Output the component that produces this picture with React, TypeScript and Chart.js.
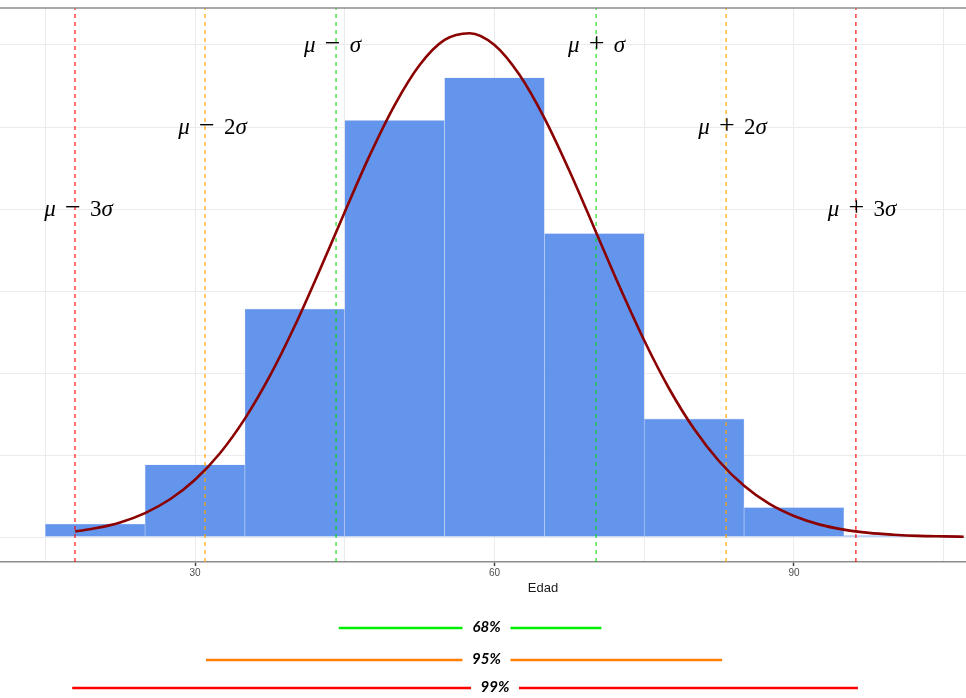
import { useEffect, useRef } from 'react';
import { Chart, registerables } from 'chart.js';

Chart.register(...registerables);

// Histogram (density) of Edad
const binCenters = [20, 30, 40, 50, 60, 70, 80, 90, 100];
const binDensity = [0.00079, 0.0044, 0.0139, 0.0254, 0.028, 0.0185, 0.0072, 0.0018, 0.00008];

// Normal density curve
const curveX = [18, 20, 22.5, 25, 27.5, 30, 32.5, 35, 37.5, 40, 42.5, 45, 47.5, 50, 52.5, 55, 57.5, 60, 62.5, 65, 67.5, 70, 72.5, 75, 77.5, 80, 82.5, 85, 87.5, 90, 92.5, 95, 97.5, 100, 102.5, 105, 107];
const curveY = [0.00034, 0.00053, 0.00089, 0.00146, 0.0023, 0.00349, 0.00511, 0.00722, 0.00982, 0.01288, 0.01628, 0.01982, 0.02327, 0.02634, 0.02878, 0.03031, 0.03072, 0.03, 0.02818, 0.02554, 0.02233, 0.01883, 0.0153, 0.01198, 0.00904, 0.00658, 0.00462, 0.00312, 0.00203, 0.00128, 0.00077, 0.00045, 0.00025, 0.00014, 0.00007, 0.00004, 0.00002];

// mu +/- k sigma reference lines
const sigmaValues = [17.98, 31.0, 44.13, 70.18, 83.2, 96.2];
const sigmaLabels = ['μ − 3σ', 'μ − 2σ', 'μ − σ', 'μ + σ', 'μ + 2σ', 'μ + 3σ'];
const sigmaLabelX = [18.33, 31.75, 43.77, 70.22, 83.84, 96.81];
const sigmaLabelLevel = [0.02, 0.025, 0.03, 0.03, 0.025, 0.02];

// coverage intervals
const intervalLabels = ['68%', '95%', '99%'];
const intervalLow = [44.4, 31.1, 17.7];
const intervalHigh = [70.7, 82.8, 96.4];
const intervalTextX = [59.2, 59.2, 60.05];

const xTickLabels = [30, 60, 90];
const xTitle = 'Edad';

const X_MIN = 10.467;
const X_MAX = 107.23;
const Y_MIN = -0.001524;
const Y_MAX = 0.032256;

const sigmaColors = ['rgba(255,0,0,0.8)', 'rgba(255,165,0,0.85)', 'rgba(0,220,0,0.75)', 'rgba(0,220,0,0.75)', 'rgba(255,165,0,0.85)', 'rgba(255,0,0,0.8)'];
const intervalColors = ['#00ee00', '#ff8000', '#ff0000'];
const intervalY = [628, 660, 688];

function drawMath(ctx: CanvasRenderingContext2D, label: string, cx: number, cy: number, size: number) {
  const up = `${size}px "Liberation Serif"`;
  const op = `${Math.round(size * 1.2)}px "Liberation Serif"`;
  const it = `italic ${size}px "Liberation Serif"`;
  const gap = size * 0.4;
  const tokens: { ch: string; font: string; w: number }[] = [];
  for (const ch of label) {
    if (ch === ' ') {
      tokens.push({ ch: '', font: up, w: gap });
    } else {
      const font = ch === 'μ' || ch === 'σ' ? it : ch === '−' || ch === '+' ? op : up;
      ctx.font = font;
      tokens.push({ ch, font, w: ctx.measureText(ch).width });
    }
  }
  const total = tokens.reduce((s, t) => s + t.w, 0);
  let xx = cx - total / 2;
  const base = cy + size * 0.3;
  ctx.fillStyle = '#000';
  ctx.textAlign = 'left';
  ctx.textBaseline = 'alphabetic';
  for (const t of tokens) {
    if (t.ch) {
      ctx.font = t.font;
      ctx.fillText(t.ch, xx, base);
    }
    xx += t.w;
  }
}

const overlayPlugin = {
  id: 'overlay',
  afterDatasetsDraw(chart: any) {
    const { ctx, chartArea, scales } = chart;
    const x = scales.x;
    const y = scales.y;
    ctx.save();
    ctx.strokeStyle = '#8c8c8c';
    ctx.lineWidth = 1.5;
    ctx.beginPath();
    ctx.moveTo(chartArea.left, chartArea.top);
    ctx.lineTo(chartArea.right, chartArea.top);
    ctx.stroke();
    sigmaLabels.forEach((lab, i) => {
      drawMath(ctx, lab, x.getPixelForValue(sigmaLabelX[i]), y.getPixelForValue(sigmaLabelLevel[i]), 23);
    });
    ctx.restore();
  },
  afterDraw(chart: any) {
    const { ctx, scales } = chart;
    const x = scales.x;
    ctx.save();
    ctx.font = '13px "Liberation Sans"';
    ctx.fillStyle = '#1a1a1a';
    ctx.textAlign = 'center';
    ctx.textBaseline = 'middle';
    ctx.fillText(xTitle, x.getPixelForValue(64.86), 588);
    intervalLabels.forEach((lab, i) => {
      const yy = intervalY[i];
      const tx = x.getPixelForValue(intervalTextX[i]);
      const x1 = x.getPixelForValue(intervalLow[i]);
      const x2 = x.getPixelForValue(intervalHigh[i]);
      ctx.strokeStyle = intervalColors[i];
      ctx.lineWidth = 2.5;
      ctx.beginPath();
      ctx.moveTo(x1, yy);
      ctx.lineTo(tx - 24, yy);
      ctx.moveTo(tx + 24, yy);
      ctx.lineTo(x2, yy);
      ctx.stroke();
      ctx.font = 'italic bold 15px Lato';
      ctx.fillStyle = '#000';
      ctx.textAlign = 'center';
      ctx.textBaseline = 'middle';
      ctx.fillText(lab, tx, yy - 1);
    });
    ctx.restore();
  },
};

export default function App() {
  const ref = useRef<HTMLCanvasElement>(null);
  useEffect(() => {
    if (!ref.current) return;
    const datasets: any[] = [
      {
        type: 'line',
        data: curveX.map((v, i) => ({ x: v, y: curveY[i] })),
        borderColor: '#8b0000',
        borderWidth: 2.6,
        pointRadius: 0,
        cubicInterpolationMode: 'monotone',
        fill: false,
        order: 0,
      },
      ...sigmaValues.map((v, i) => ({
        type: 'line',
        data: [
          { x: v, y: Y_MIN },
          { x: v, y: Y_MAX },
        ],
        borderColor: sigmaColors[i],
        borderWidth: 1.4,
        borderDash: [4, 4],
        pointRadius: 0,
        fill: false,
        order: 1,
      })),
      {
        type: 'bar',
        data: binCenters.map((v, i) => ({ x: v, y: binDensity[i] })),
        backgroundColor: '#6495ed',
        borderColor: 'rgba(200,215,245,0.9)',
        borderWidth: 0.6,
        barPercentage: 1,
        categoryPercentage: 1,
        order: 2,
      },
    ];
    const chart = new Chart(ref.current, {
      type: 'line',
      data: { datasets },
      plugins: [overlayPlugin],
      options: {
        responsive: false,
        devicePixelRatio: 1,
        animation: false,
        layout: { padding: { top: 8, left: 0, right: 0, bottom: 0 } },
        plugins: { legend: { display: false }, tooltip: { enabled: false } },
        scales: {
          x: {
            type: 'linear',
            min: X_MIN,
            max: X_MAX,
            offset: false,
            afterFit: (s: any) => {
              s.height = 136;
            },
            ticks: {
              stepSize: 15,
              includeBounds: false,
              autoSkip: false,
              maxRotation: 0,
              padding: 1,
              color: '#4d4d4d',
              font: { size: 10, family: '"Liberation Sans"' },
              callback: (v: any) => (xTickLabels.includes(Math.round(Number(v))) ? String(Math.round(Number(v))) : ''),
            },
            grid: {
              offset: false,
              color: '#ebebeb',
              lineWidth: 1,
              tickLength: 4,
              tickWidth: 1.5,
              tickColor: (c: any) => (c.tick && xTickLabels.includes(Math.round(c.tick.value)) ? '#444' : 'rgba(0,0,0,0)'),
            },
            border: { color: '#8c8c8c', width: 1.5 },
          },
          y: {
            type: 'linear',
            min: Y_MIN,
            max: Y_MAX,
            afterFit: (s: any) => {
              s.width = 0;
            },
            ticks: { display: false, stepSize: 0.005, includeBounds: false },
            grid: { color: '#ebebeb', lineWidth: 1, drawTicks: false },
            border: { display: false },
          },
        },
      },
    } as any);
    return () => chart.destroy();
  }, []);
  return (
    <div style={{ position: 'fixed', top: 0, left: 0, width: 966, height: 698, background: '#fff' }}>
      <canvas ref={ref} width={966} height={698} style={{ display: 'block' }} />
    </div>
  );
}
